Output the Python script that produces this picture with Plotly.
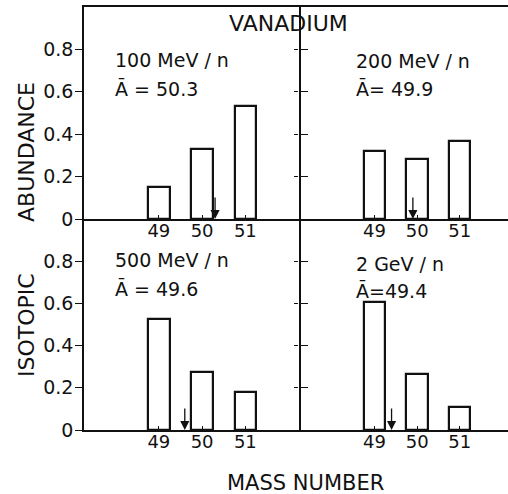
import plotly.graph_objects as go
from plotly.subplots import make_subplots

# ---------------- data ----------------
masses = [49, 50, 51]
mass_labels = ["49", "50", "51"]
abund_100mev = [0.15, 0.33, 0.535]
abund_200mev = [0.32, 0.285, 0.37]
abund_500mev = [0.525, 0.277, 0.18]
abund_2gev = [0.605, 0.265, 0.107]
energy_labels = ["100 MeV / n", "200 MeV / n", "500 MeV / n", "2 GeV / n"]
mean_mass = [50.3, 49.9, 49.6, 49.4]
mean_labels = ["Ā = 50.3", "Ā= 49.9", "Ā = 49.6", "Ā=49.4"]
y_tickvals = [0, 0.2, 0.4, 0.6, 0.8]
y_ticktext = ["0", "0.2", "0.4", "0.6", "0.8"]
title_text = "VANADIUM"
xlabel_text = "MASS NUMBER"
ylabel_words = ["ISOTOPIC", "ABUNDANCE"]

series = [abund_100mev, abund_200mev, abund_500mev, abund_2gev]

# ---------------- layout geometry ----------------
W, H = 508, 494
L, R, T, B = 84, 0, 7, 64
PW, PH = W - L - R, H - T - B
X_DIV = 299      # px of middle divider
Y_DIV = 219      # px of middle divider

def xp(px):
    return (px - L) / PW

def yp(py):
    return (H - B - py) / PH

FONT = "DejaVu Sans"
INK = "#111111"

fig = make_subplots(rows=2, cols=2, horizontal_spacing=0, vertical_spacing=0)

pos = [(1, 1), (1, 2), (2, 1), (2, 2)]
for (r, c), vals in zip(pos, series):
    fig.add_trace(go.Bar(x=masses, y=vals, width=0.5,
                         marker=dict(color="white", line=dict(color=INK, width=2.2)),
                         showlegend=False, hoverinfo="skip"), row=r, col=c)

xd_left = [0, xp(X_DIV)]
xd_right = [xp(X_DIV), 1]
yd_top = [yp(Y_DIV), 1]
yd_bot = [0, yp(Y_DIV)]

left_range = [47.27, 52.24]
right_range = [47.23, 52.13]

axis_common = dict(showgrid=False, zeroline=False, linecolor=INK, linewidth=1.5,
                   tickcolor=INK)

for i, (dom, rng, top) in enumerate([(xd_left, left_range, True), (xd_right, right_range, True),
                                       (xd_left, left_range, False), (xd_right, right_range, False)], start=1):
    fig.layout[f"xaxis{'' if i == 1 else i}"].update(
        domain=dom, range=rng, showline=True, mirror=top,
        ticks="inside", ticklen=4, tickwidth=1, ticklabelstandoff=-5,
        tickfont=dict(family=FONT, size=18, color=INK),
        tickvals=masses, ticktext=mass_labels, **axis_common)

for i, (dom, left) in enumerate([(yd_top, True), (yd_top, False), (yd_bot, True), (yd_bot, False)], start=1):
    ax = fig.layout[f"yaxis{'' if i == 1 else i}"]
    if left:
        ax.update(domain=dom, range=[0, 1.0], showline=True, mirror="ticks",
                  ticks="outside", ticklen=7, tickwidth=1.2, ticklabelstandoff=-2,
                  tickfont=dict(family=FONT, size=19, color=INK),
                  tickvals=y_tickvals, ticktext=y_ticktext, **axis_common)
    else:
        ax.update(domain=dom, range=[0, 1.0], showline=False,
                  ticks="outside", ticklen=4, tickwidth=1.2,
                  tickvals=y_tickvals, showticklabels=False, **axis_common)

annos = []
annos.append(dict(text=title_text, x=xp(288), y=yp(24), xref="paper", yref="paper",
                  xanchor="center", yanchor="middle", showarrow=False,
                  font=dict(family=FONT, size=22, color=INK)))
annos.append(dict(text=xlabel_text, x=xp(305), y=yp(483), xref="paper", yref="paper",
                  xanchor="center", yanchor="middle", showarrow=False,
                  font=dict(family=FONT, size=21, color=INK)))
for word, cy in zip(ylabel_words, [325, 152]):
    annos.append(dict(text=word, x=xp(26), y=yp(cy), xref="paper", yref="paper",
                      xanchor="center", yanchor="middle", textangle=-90, showarrow=False,
                      font=dict(family=FONT, size=22, color=INK)))

label_pos = [(113, 60, 88), (354, 61, 89), (113, 260, 288), (354, 264, 290)]
for (lx, y1, y2), e_lab, m_lab in zip(label_pos, energy_labels, mean_labels):
    annos.append(dict(text=e_lab, x=xp(lx), y=yp(y1), xref="paper", yref="paper",
                      xanchor="left", yanchor="middle", showarrow=False,
                      font=dict(family=FONT, size=19, color=INK)))
    annos.append(dict(text=m_lab, x=xp(lx), y=yp(y2), xref="paper", yref="paper",
                      xanchor="left", yanchor="middle", showarrow=False,
                      font=dict(family=FONT, size=19, color=INK)))

axes_ids = [("x", "y"), ("x2", "y2"), ("x3", "y3"), ("x4", "y4")]
for (xr, yr), m in zip(axes_ids, mean_mass):
    annos.append(dict(text="", x=m, y=0, xref=xr, yref=yr, showarrow=True,
                      ax=0, ay=-23, arrowhead=2, arrowsize=1.4, arrowwidth=1.3,
                      arrowcolor=INK, standoff=0))

fig.update_layout(width=W, height=H, margin=dict(l=L, r=R, t=T, b=B, pad=0),
                  paper_bgcolor="white", plot_bgcolor="white",
                  annotations=annos, bargap=0, showlegend=False)

fig.write_html("out.html")
